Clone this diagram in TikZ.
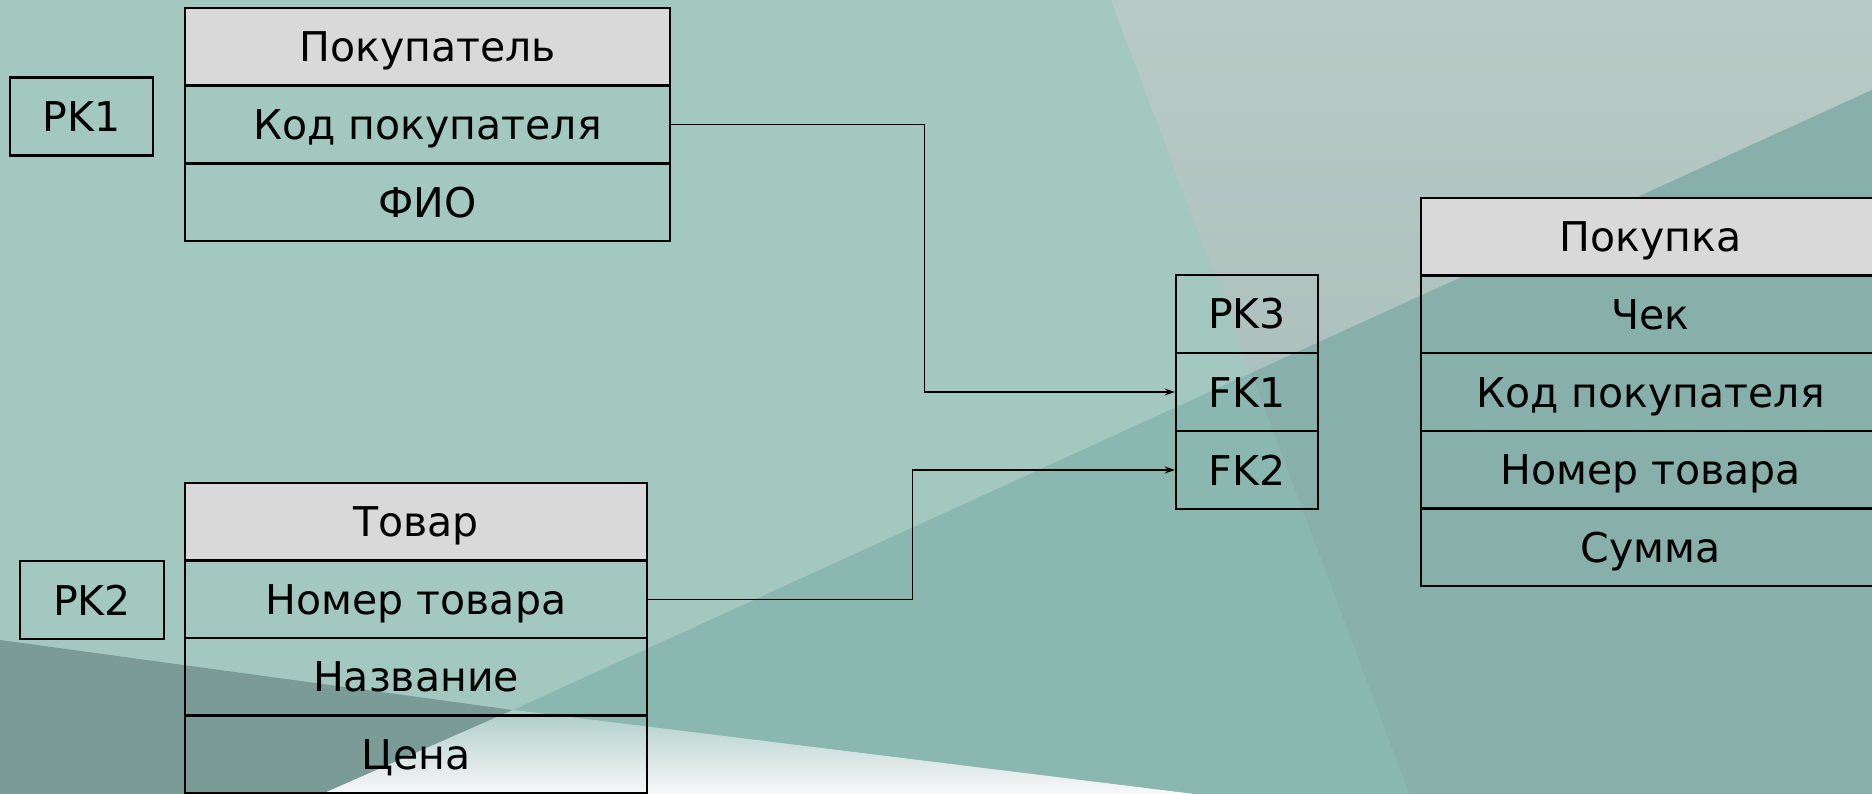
\documentclass[tikz,border=0pt]{standalone}
\usepackage{fontspec}
\setmainfont{DejaVu Sans}
\usetikzlibrary{arrows.meta}
\definecolor{bgteal}{HTML}{A2C8C0}
\definecolor{bggray}{HTML}{ACC1BD}
\definecolor{bgdark}{HTML}{8AB7B0}
\definecolor{bgdark2}{HTML}{87B0AA}
\definecolor{bgslate}{HTML}{7B9B96}
\definecolor{headgray}{HTML}{D9D9D9}
\begin{document}
\begin{tikzpicture}[x=1pt,y=-1pt,
  cell/.style={draw=black,line width=2.5pt,inner sep=0pt,
    minimum width=#1,minimum height=77.7pt,
    text height=30pt,text depth=0pt,
    font=\fontsize{41}{41}\selectfont},
  headcell/.style={cell=#1,fill=headgray},
  conn/.style={draw=black,line width=1.4pt,-{Stealth[length=10pt,width=7pt]}}]
\useasboundingbox (0,0) rectangle (1872,794);
% background
\begin{scope}
\clip (0,0) rectangle (1872,794);
\fill[bgteal] (0,0) rectangle (1872,794);
\shade[top color=bggray!85!white,bottom color=bggray] (1111,0) -- (1872,0) -- (1872,90) -- (1251,373) -- cycle;
\fill[bgdark] (513,710) -- (1251,373) -- (1409,794) -- (1194,794) -- cycle;
\fill[bgdark2] (1251,373) -- (1872,90) -- (1872,794) -- (1409,794) -- cycle;
\fill[bgslate] (0,640) -- (513,710) -- (322,794) -- (0,794) -- cycle;
\shade[top color=bgdark!70!white,bottom color=white!95!gray] (513,710) -- (1194,794) -- (322,794) -- cycle;
\end{scope}
% Покупатель
\node[cell=143pt] (pk1) at (81.5,116.5) {PK1};
\node[headcell=485pt] (c0) at (427.5,46.8) {Покупатель};
\node[cell=485pt] (c1) at (427.5,124.5) {Код покупателя};
\node[cell=485pt] (c2) at (427.5,202.2) {ФИО};
% Товар
\node[cell=144pt] (pk2) at (92,600) {PK2};
\node[headcell=462pt] (t0) at (416,521.8) {Товар};
\node[cell=462pt] (t1) at (416,599.3) {Номер товара};
\node[cell=462pt] (t2) at (416,676.8) {Название};
\node[cell=462pt] (t3) at (416,754.3) {Цена};
% keys
\node[cell=142pt] (pk3) at (1247,314) {PK3};
\node[cell=142pt] (fk1) at (1247,392) {FK1};
\node[cell=142pt] (fk2) at (1247,470) {FK2};
% Покупка
\node[headcell=459pt] (p0) at (1650.5,236.8) {Покупка};
\node[cell=459pt] (p1) at (1650.5,314.4) {Чек};
\node[cell=459pt] (p2) at (1650.5,392) {Код покупателя};
\node[cell=459pt] (p3) at (1650.5,469.6) {Номер товара};
\node[cell=459pt] (p4) at (1650.5,547.2) {Сумма};
% connectors
\draw[conn] (c1.east) -- ++(253,0) |- (fk1.west);
\draw[conn] (t1.east) -- ++(264,0) |- (fk2.west);
\end{tikzpicture}
\end{document}
